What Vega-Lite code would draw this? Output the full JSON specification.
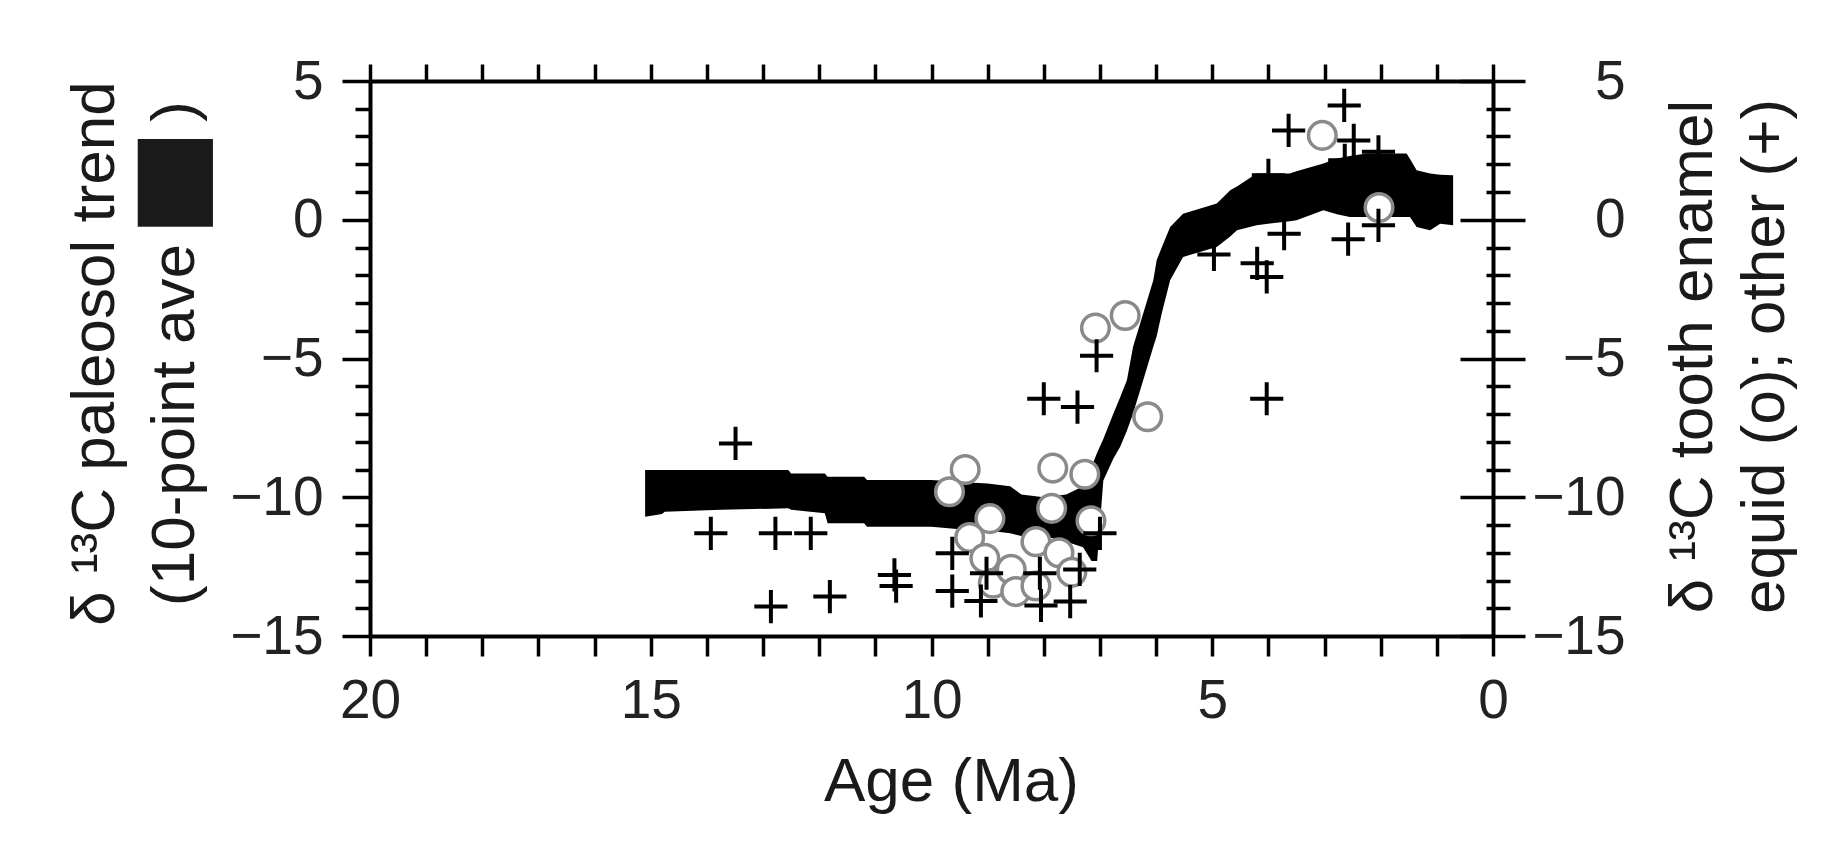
{
  "$schema": "https://vega.github.io/schema/vega-lite/v6.json",
  "width": 1123,
  "height": 555,
  "autosize": {"type": "none"},
  "padding": {"left": 370, "top": 81, "right": 348, "bottom": 227},
  "background": "white",
  "config": {
    "view": {"stroke": null},
    "font": "Liberation Sans",
    "axis": {
      "grid": false,
      "domainColor": "#000000",
      "domainWidth": 4,
      "tickColor": "#000000",
      "tickWidth": 3.5,
      "labelFont": "Liberation Sans",
      "labelFontSize": 55,
      "labelColor": "#222222",
      "labelFlush": false,
      "labelOverlap": false,
      "titleFont": "Liberation Sans",
      "titleFontSize": 62,
      "titleFontWeight": "normal",
      "titleColor": "#1a1a1a"
    }
  },
  "datasets": {
    "trend": [
      {"age": 15.1, "hi": -9.02, "lo": -10.7},
      {"age": 14.8, "hi": -9.02, "lo": -10.6},
      {"age": 14.75, "hi": -9.02, "lo": -10.52},
      {"age": 13.75, "hi": -9.02, "lo": -10.45},
      {"age": 12.55, "hi": -9.02, "lo": -10.4},
      {"age": 12.5, "hi": -9.14, "lo": -10.45},
      {"age": 11.9, "hi": -9.14, "lo": -10.58},
      {"age": 11.85, "hi": -9.26, "lo": -10.94},
      {"age": 11.2, "hi": -9.26, "lo": -10.94},
      {"age": 11.15, "hi": -9.38, "lo": -11.06},
      {"age": 10.0, "hi": -9.38, "lo": -11.06},
      {"age": 9.5, "hi": -9.45, "lo": -11.15},
      {"age": 9.0, "hi": -9.5, "lo": -11.2},
      {"age": 8.6, "hi": -9.6, "lo": -11.3},
      {"age": 8.4, "hi": -9.9, "lo": -11.4},
      {"age": 8.0, "hi": -10.0, "lo": -11.4},
      {"age": 7.6, "hi": -9.9, "lo": -11.6},
      {"age": 7.3, "hi": -9.6, "lo": -11.8},
      {"age": 7.15, "hi": -8.9, "lo": -12.3},
      {"age": 7.05, "hi": -8.4, "lo": -12.3},
      {"age": 6.94, "hi": -7.9, "lo": -9.4},
      {"age": 6.76, "hi": -6.98, "lo": -8.6},
      {"age": 6.64, "hi": -6.4, "lo": -8.18},
      {"age": 6.52, "hi": -5.78, "lo": -7.6},
      {"age": 6.41, "hi": -4.58, "lo": -6.98},
      {"age": 6.23, "hi": -3.38, "lo": -5.78},
      {"age": 6.05, "hi": -2.18, "lo": -4.58},
      {"age": 5.99, "hi": -1.46, "lo": -4.2},
      {"age": 5.9, "hi": -1.0, "lo": -3.38},
      {"age": 5.75, "hi": -0.26, "lo": -2.18},
      {"age": 5.52, "hi": 0.22, "lo": -1.34},
      {"age": 4.92, "hi": 0.59, "lo": -0.98},
      {"age": 4.68, "hi": 1.06, "lo": -0.6},
      {"age": 4.56, "hi": 1.2, "lo": -0.38},
      {"age": 4.21, "hi": 1.67, "lo": -0.2},
      {"age": 3.62, "hi": 1.67, "lo": -0.05},
      {"age": 3.5, "hi": 1.75, "lo": -0.02},
      {"age": 3.02, "hi": 2.03, "lo": 0.34},
      {"age": 2.78, "hi": 2.21, "lo": 0.2},
      {"age": 2.55, "hi": 2.3, "lo": 0.1},
      {"age": 2.25, "hi": 2.39, "lo": 0.1},
      {"age": 1.54, "hi": 2.39, "lo": 0.1},
      {"age": 1.48, "hi": 2.2, "lo": 0.1},
      {"age": 1.36, "hi": 1.78, "lo": -0.26},
      {"age": 1.12, "hi": 1.67, "lo": -0.38},
      {"age": 0.94, "hi": 1.62, "lo": -0.14},
      {"age": 0.71, "hi": 1.6, "lo": -0.2}
    ],
    "equid": [
      {"age": 9.4, "d13c": -9.0},
      {"age": 9.68, "d13c": -9.8},
      {"age": 8.96, "d13c": -10.77},
      {"age": 9.32, "d13c": -11.45},
      {"age": 9.05, "d13c": -12.2},
      {"age": 8.9, "d13c": -13.1},
      {"age": 8.58, "d13c": -12.6},
      {"age": 8.5, "d13c": -13.4},
      {"age": 8.14, "d13c": -11.6},
      {"age": 7.84, "d13c": -8.95},
      {"age": 7.27, "d13c": -9.17},
      {"age": 7.86, "d13c": -10.4},
      {"age": 7.16, "d13c": -10.85},
      {"age": 7.73, "d13c": -12.0},
      {"age": 7.5, "d13c": -12.7},
      {"age": 8.14, "d13c": -13.2},
      {"age": 7.08, "d13c": -3.9},
      {"age": 6.55, "d13c": -3.45},
      {"age": 6.15, "d13c": -7.1},
      {"age": 3.04, "d13c": 3.04},
      {"age": 2.03, "d13c": 0.44}
    ],
    "other": [
      {"age": 13.49, "d13c": -8.06},
      {"age": 13.93, "d13c": -11.3},
      {"age": 12.78, "d13c": -11.3},
      {"age": 12.15, "d13c": -11.3},
      {"age": 12.86, "d13c": -13.94},
      {"age": 11.81, "d13c": -13.58},
      {"age": 10.66, "d13c": -12.8},
      {"age": 10.63, "d13c": -13.2},
      {"age": 9.63, "d13c": -12.02},
      {"age": 9.63, "d13c": -13.38},
      {"age": 9.12, "d13c": -13.74},
      {"age": 9.02, "d13c": -12.74},
      {"age": 8.07, "d13c": -12.74},
      {"age": 8.05, "d13c": -13.9},
      {"age": 7.53, "d13c": -13.76},
      {"age": 7.36, "d13c": -12.6},
      {"age": 8.0, "d13c": -6.45},
      {"age": 7.4, "d13c": -6.75},
      {"age": 7.06, "d13c": -4.9},
      {"age": 7.0, "d13c": -11.3},
      {"age": 4.97, "d13c": -1.25},
      {"age": 4.2, "d13c": -1.57},
      {"age": 4.03, "d13c": -2.06},
      {"age": 3.72, "d13c": -0.5},
      {"age": 2.58, "d13c": -0.7},
      {"age": 4.0, "d13c": 1.6},
      {"age": 3.64, "d13c": 3.22},
      {"age": 2.65, "d13c": 4.12},
      {"age": 2.48, "d13c": 2.86},
      {"age": 2.64, "d13c": 2.14},
      {"age": 2.04, "d13c": 2.45},
      {"age": 2.04, "d13c": -0.2},
      {"age": 4.03, "d13c": -6.45}
    ]
  },
  "layer": [
    {
      "data": {"name": "trend"},
      "mark": {"type": "area", "color": "#000000", "opacity": 1},
      "encoding": {
        "x": {
          "field": "age", "type": "quantitative",
          "scale": {"domain": [0, 20], "reverse": true, "nice": false, "zero": false},
          "axis": {
            "orient": "bottom",
            "title": "Age (Ma)",
            "values": [0,1,2,3,4,5,6,7,8,9,10,11,12,13,14,15,16,17,18,19,20],
            "labelExpr": "datum.value % 5 === 0 ? datum.label : ''",
            "tickSize": 20,
            "labelPadding": 18,
            "titleX": 581,
            "titleY": 164,
            "titleAlign": "center",
            "titleBaseline": "alphabetic"
          }
        },
        "y": {
          "field": "hi", "type": "quantitative",
          "scale": {"domain": [-15, 5], "nice": false, "zero": false},
          "axis": {
            "orient": "left",
            "title": ["δ ¹³C paleosol trend", "(10-point ave ██ )"],
            "values": [-15,-14,-13,-12,-11,-10,-9,-8,-7,-6,-5,-4,-3,-2,-1,0,1,2,3,4,5],
            "labelExpr": "datum.value % 5 === 0 ? datum.label : ''",
            "tickSize": {"condition": {"test": "datum.value % 5 === 0", "value": 28}, "value": 15},
            "labelPadding": 19,
            "titleAngle": 270,
            "titleAlign": "center",
            "titleBaseline": "alphabetic",
            "titleLineHeight": 80,
            "titleX": -257,
            "titleY": 272
          }
        },
        "y2": {"field": "lo"}
      }
    },
    {
      "data": {"name": "equid"},
      "mark": {"type": "point", "shape": "circle", "filled": false, "fill": "#ffffff", "fillOpacity": 1, "stroke": "#8a8a8a", "strokeWidth": 3.5, "size": 760, "opacity": 1},
      "encoding": {
        "x": {
          "field": "age", "type": "quantitative",
          "scale": {"domain": [0, 20], "reverse": true, "nice": false, "zero": false},
          "axis": {
            "orient": "top",
            "title": null,
            "labels": false,
            "values": [0,1,2,3,4,5,6,7,8,9,10,11,12,13,14,15,16,17,18,19,20],
            "tickSize": 17
          }
        },
        "y": {
          "field": "d13c", "type": "quantitative",
          "scale": {"domain": [-15, 5], "nice": false, "zero": false},
          "axis": {
            "orient": "right",
            "title": ["δ ¹³C tooth enamel", "equid (o); other (+)"],
            "values": [-15,-14,-13,-12,-11,-10,-9,-8,-7,-6,-5,-4,-3,-2,-1,0,1,2,3,4,5],
            "labelExpr": "datum.value % 5 === 0 ? datum.label : ''",
            "tickSize": {"condition": {"test": "datum.value % 5 === 0", "value": 32}, "value": 17},
            "labelAlign": "right",
            "labelPadding": 100,
            "titleAngle": 270,
            "titleAlign": "center",
            "titleBaseline": "alphabetic",
            "titleLineHeight": 72,
            "titleX": 218,
            "titleY": 275
          }
        }
      }
    },
    {
      "data": {"name": "other"},
      "mark": {"type": "point", "shape": "M-1,0L1,0M0,-1L0,1", "filled": false, "stroke": "#000000", "strokeWidth": 4, "size": 1100, "opacity": 1},
      "encoding": {
        "x": {
          "field": "age", "type": "quantitative",
          "scale": {"domain": [0, 20], "reverse": true, "nice": false, "zero": false},
          "axis": null
        },
        "y": {
          "field": "d13c", "type": "quantitative",
          "scale": {"domain": [-15, 5], "nice": false, "zero": false},
          "axis": {
            "orient": "left",
            "offset": -1123,
            "title": null,
            "labels": false,
            "domain": false,
            "values": [-15,-14,-13,-12,-11,-10,-9,-8,-7,-6,-5,-4,-3,-2,-1,0,1,2,3,4,5],
            "tickSize": {"condition": {"test": "datum.value % 5 === 0", "value": 33}, "value": 7}
          }
        }
      }
    }
  ],
  "resolve": {"axis": {"x": "independent", "y": "independent"}}
}
